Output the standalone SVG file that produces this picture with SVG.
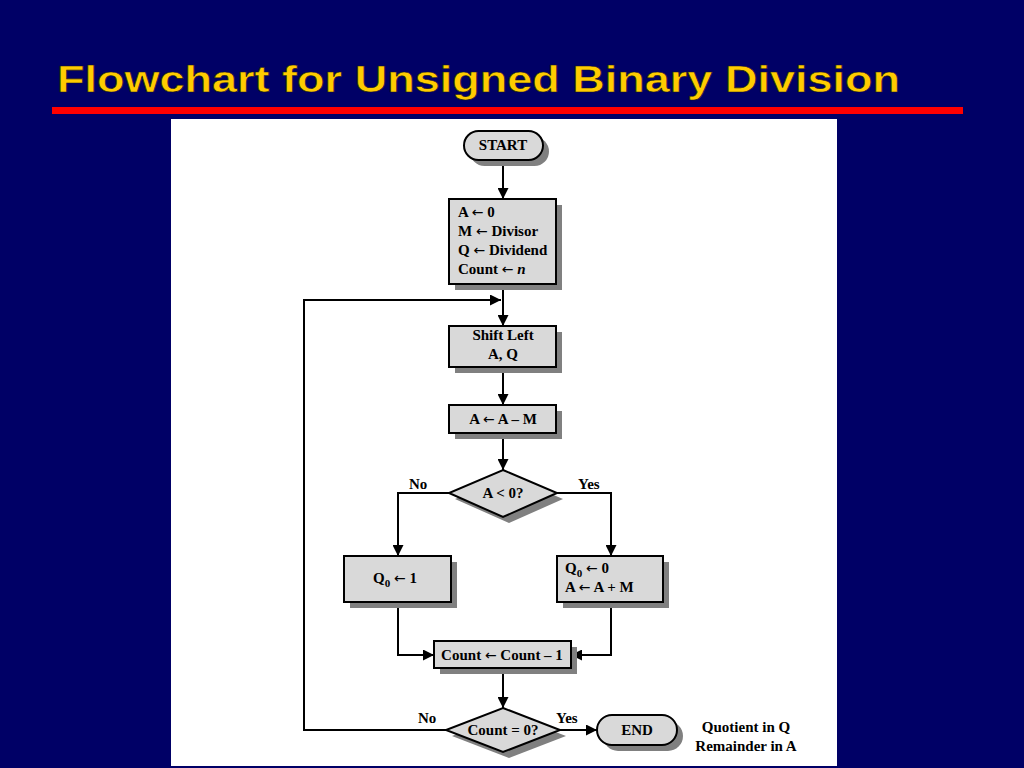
<svg xmlns="http://www.w3.org/2000/svg" width="1024" height="768" viewBox="0 0 1024 768">
<defs>
<style>
.bx{fill:#d9d9d9;stroke:#000;stroke-width:2}
.sh{fill:#808080}
.t{font-family:"Liberation Serif","Times New Roman",serif;font-weight:bold;font-size:15px;fill:#000}
.ar{font-family:"DejaVu Sans",sans-serif;font-weight:normal;font-size:14px}
.c{text-anchor:middle}
.ln{fill:none;stroke:#000;stroke-width:2}
</style>
<marker id="ah" viewBox="0 0 10 10" refX="10" refY="5" markerWidth="11" markerHeight="11" orient="auto" markerUnits="userSpaceOnUse">
<path d="M0,0 L10,5 L0,10 z" fill="#000"/>
</marker>
</defs>
<rect width="1024" height="768" fill="#000066"/>
<text x="57" y="92" font-family="Liberation Sans,Arial,sans-serif" font-weight="bold" font-size="36" fill="#ffcc00" stroke="#1a1a1a" stroke-width="0.6" textLength="843" lengthAdjust="spacingAndGlyphs">Flowchart for Unsigned Binary Division</text>
<rect x="52" y="107" width="911" height="7" fill="#ff0000"/>
<rect x="171" y="119" width="666" height="647" fill="#ffffff"/>

<g id="connectors">
<path class="ln" d="M503,160 V199" marker-end="url(#ah)"/>
<path class="ln" d="M503,284 V326" marker-end="url(#ah)"/>
<path class="ln" d="M503,367 V405" marker-end="url(#ah)"/>
<path class="ln" d="M503,433 V470" marker-end="url(#ah)"/>
<path class="ln" d="M449,493 H398 V556" marker-end="url(#ah)"/>
<path class="ln" d="M557,493 H611 V556" marker-end="url(#ah)"/>
<path class="ln" d="M398,602 V655 H434" marker-end="url(#ah)"/>
<path class="ln" d="M611,602 V655 H571" marker-end="url(#ah)"/>
<path class="ln" d="M503,668 V708" marker-end="url(#ah)"/>
<path class="ln" d="M446,730 H304 V300 H501" marker-end="url(#ah)"/>
<path class="ln" d="M560,730 H597" marker-end="url(#ah)"/>
<text class="t" x="409" y="489">No</text>
<text class="t" x="578" y="489">Yes</text>
<text class="t" x="418" y="723">No</text>
<text class="t" x="556" y="723">Yes</text>
</g>

<g id="start">
<rect class="sh" x="470" y="137" width="79" height="29" rx="14.5"/>
<rect class="bx" x="464" y="131" width="79" height="29" rx="14.5"/>
<text class="t c" x="503" y="150">START</text>
</g>

<g id="init">
<rect class="sh" x="455" y="205" width="107" height="85"/>
<rect class="bx" x="449" y="199" width="107" height="85"/>
<text class="t" x="458" y="217">A <tspan class="ar">←</tspan> 0</text>
<text class="t" x="458" y="236">M <tspan class="ar">←</tspan> Divisor</text>
<text class="t" x="458" y="255">Q <tspan class="ar">←</tspan> Dividend</text>
<text class="t" x="458" y="274">Count <tspan class="ar">←</tspan> <tspan font-style="italic">n</tspan></text>
</g>

<g id="shift">
<rect class="sh" x="455" y="332" width="107" height="41"/>
<rect class="bx" x="449" y="326" width="107" height="41"/>
<text class="t c" x="503" y="340">Shift Left</text>
<text class="t c" x="503" y="359">A, Q</text>
</g>

<g id="sub">
<rect class="sh" x="455" y="411" width="107" height="28"/>
<rect class="bx" x="449" y="405" width="107" height="28"/>
<text class="t c" x="503" y="424">A <tspan class="ar">←</tspan> A – M</text>
</g>

<g id="test1">
<polygon class="sh" points="509,476 563,499 509,523 455,499"/>
<polygon class="bx" points="503,470 557,493 503,517 449,493"/>
<text class="t c" x="503" y="498">A &lt; 0?</text>
</g>

<g id="q1">
<rect class="sh" x="350" y="562" width="107" height="46"/>
<rect class="bx" x="344" y="556" width="107" height="46"/>
<text class="t" x="373" y="583">Q<tspan font-size="11" dy="4">0</tspan><tspan dy="-4"> </tspan><tspan class="ar">←</tspan> 1</text>
</g>

<g id="q0">
<rect class="sh" x="563" y="562" width="106" height="46"/>
<rect class="bx" x="557" y="556" width="106" height="46"/>
<text class="t" x="565" y="573">Q<tspan font-size="11" dy="4">0</tspan><tspan dy="-4"> </tspan><tspan class="ar">←</tspan> 0</text>
<text class="t" x="565" y="592">A <tspan class="ar">←</tspan> A + M</text>
</g>

<g id="dec">
<rect class="sh" x="440" y="647" width="137" height="27"/>
<rect class="bx" x="434" y="641" width="137" height="27"/>
<text class="t c" x="502" y="660">Count <tspan class="ar">←</tspan> Count – 1</text>
</g>

<g id="test2">
<polygon class="sh" points="509,714 566,736 509,758 452,736"/>
<polygon class="bx" points="503,708 560,730 503,752 446,730"/>
<text class="t c" x="503" y="735">Count = 0?</text>
</g>

<g id="end">
<rect class="sh" x="603" y="721" width="80" height="30" rx="15"/>
<rect class="bx" x="597" y="715" width="80" height="30" rx="15"/>
<text class="t c" x="637" y="735">END</text>
</g>

<g id="note">
<text class="t c" x="746" y="732">Quotient in Q</text>
<text class="t c" x="746" y="751">Remainder in A</text>
</g>
</svg>
